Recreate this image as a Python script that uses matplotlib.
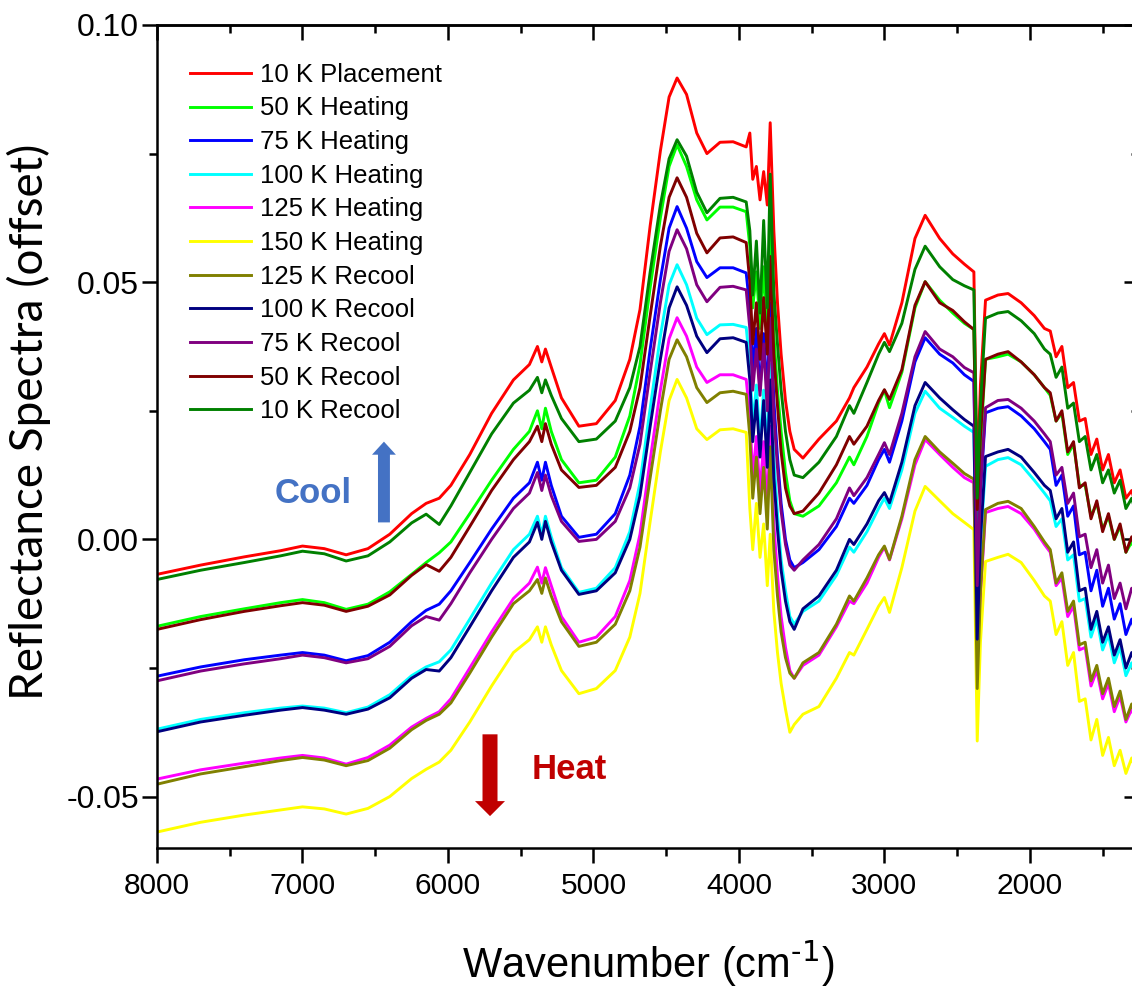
import numpy as np
import matplotlib.pyplot as plt
from matplotlib.ticker import MultipleLocator, FormatStrFormatter

plt.rcParams['font.family'] = ['Liberation Sans', 'DejaVu Sans']
plt.rcParams['axes.unicode_minus'] = False
plt.rcParams['mathtext.default'] = 'regular'

# wavenumber grid (cm-1) shared by all spectra
wavenumber = [
    8000, 7700, 7400, 7150, 7000, 6850, 6700, 6550, 6400, 6250,
    6150, 6060, 5980, 5850, 5700, 5550, 5440, 5385, 5355, 5330,
    5290, 5220, 5100, 4980, 4850, 4750, 4680, 4610, 4540, 4480,
    4425, 4360, 4290, 4220, 4130, 4040, 3950, 3925, 3905, 3880,
    3855, 3830, 3805, 3785, 3760, 3735, 3710, 3680, 3650, 3620,
    3560, 3450, 3330, 3240, 3210, 3120, 3040, 3000, 2965, 2880,
    2790, 2720, 2620, 2530, 2450, 2385, 2362, 2340, 2305, 2220,
    2150, 2060, 1970, 1900, 1860, 1820, 1780, 1740, 1700, 1660,
    1620, 1580, 1540, 1500, 1460, 1420, 1380, 1340, 1300, 1250]

# offset reflectance, in units of 1e-3
placement_10k = [
    -6.8, -5.0, -3.4, -2.2, -1.3, -1.8, -3.0, -1.8, 1.0, 5.0,
    7.0, 8.0, 10.5, 16.5, 24.5, 31.0, 34.0, 37.5, 34.5, 37.0,
    33.5, 27.5, 22.0, 22.5, 27.0, 35.0, 44.7, 61.0, 75.5, 86.0,
    89.7, 86.5, 79.0, 75.0, 77.2, 77.3, 76.3, 79.0, 70.0, 72.5,
    66.0, 71.5, 65.0, 81.0, 60.0, 46.0, 36.0, 27.0, 21.0, 17.5,
    15.8, 19.5, 23.0, 27.5, 29.5, 33.5, 38.0, 40.0, 37.8, 46.0,
    58.5, 63.0, 58.5, 55.5, 53.5, 52.0, 11.0, 30.0, 46.5, 47.5,
    47.8, 46.0, 43.5, 41.0, 40.5, 35.5, 37.5, 29.5, 30.5, 23.0,
    23.5, 16.5, 19.5, 13.5, 16.5, 11.0, 13.5, 8.0, 9.5, 4.5]
heat_50k = [
    -16.9, -15.0, -13.5, -12.3, -11.7, -12.3, -13.6, -12.6, -10.2, -6.8,
    -4.5, -2.6, -0.5, 5.0, 11.5, 17.5, 21.0, 25.0, 21.5, 25.5,
    21.0, 15.5, 11.0, 11.5, 16.0, 24.0, 34.0, 49.0, 62.5, 72.5,
    76.7, 72.5, 66.0, 62.1, 64.6, 64.6, 63.7, 57.0, 45.0, 52.0,
    41.0, 53.0, 40.0, 62.0, 40.0, 29.0, 21.0, 13.0, 7.5, 5.0,
    4.5, 6.5, 11.0, 16.0, 14.5, 20.0, 26.5, 29.0, 25.6, 32.5,
    45.0, 50.1, 46.5, 44.0, 42.0, 40.8, 0.0, 18.0, 35.0, 35.5,
    36.0, 34.5, 32.0, 29.5, 28.0, 23.0, 24.5, 16.5, 18.5, 10.5,
    10.5, 4.5, 7.0, 2.0, 4.5, 0.0, 2.5, -2.5, -0.5, -4.0]
heat_75k = [
    -26.6, -24.8, -23.4, -22.5, -22.0, -22.5, -23.6, -22.6, -20.0, -16.0,
    -13.8, -12.6, -10.0, -4.5, 2.0, 8.0, 11.0, 15.0, 11.5, 15.0,
    10.5, 4.5, 0.4, 1.0, 5.0, 12.5, 22.0, 37.0, 50.5, 60.5,
    64.7, 60.5, 54.0, 50.9, 52.8, 52.8, 51.8, 45.0, 33.0, 41.0,
    29.0, 40.0, 28.0, 46.0, 27.0, 16.0, 7.0, 0.0, -4.0, -5.5,
    -4.5, -2.0, 2.5, 8.0, 7.0, 10.5, 15.5, 17.5, 15.0, 23.0,
    34.5, 39.2, 36.0, 34.3, 32.0, 30.7, -9.5, 9.0, 24.6, 25.5,
    25.8, 24.0, 21.5, 19.0, 17.5, 10.5, 12.5, 4.5, 6.5, -3.0,
    -2.5, -10.0, -6.0, -13.0, -9.5, -15.5, -12.5, -18.5, -15.5, -21.5]
heat_100k = [
    -36.9, -35.0, -33.7, -32.8, -32.4, -32.8, -33.7, -32.6, -30.2, -26.5,
    -24.8, -23.8, -21.5, -15.5, -8.5, -2.0, 1.0, 4.5, 1.0, 4.5,
    0.5, -5.5, -10.3, -9.5, -5.5, 1.5, 11.0, 25.5, 39.5, 49.5,
    53.4, 49.5, 43.0, 39.8, 41.7, 41.8, 41.2, 34.0, 22.0, 30.0,
    19.0, 29.0, 17.0, 34.0, 16.0, 5.0, -4.0, -10.0, -15.0, -16.5,
    -14.0, -12.0, -7.0, -1.5, -2.5, 1.5, 6.0, 8.0, 6.0, 13.5,
    24.5, 28.8, 25.5, 23.7, 22.0, 20.8, -19.5, -1.0, 14.2, 15.5,
    15.9, 14.5, 11.5, 9.0, 7.5, 2.5, 4.0, -4.0, -3.0, -12.0,
    -11.5, -19.0, -15.5, -21.5, -18.5, -24.0, -21.0, -26.5, -24.0, -28.5]
heat_125k = [
    -46.6, -44.8, -43.5, -42.5, -42.0, -42.5, -43.7, -42.4, -40.0, -36.5,
    -34.8, -33.5, -31.0, -25.0, -18.0, -11.5, -8.5, -5.4, -8.5, -5.5,
    -9.0, -15.0, -20.0, -19.0, -15.0, -8.0, 1.0, 15.5, 29.0, 39.0,
    43.1, 39.5, 33.5, 30.5, 32.0, 32.0, 31.1, 24.0, 12.0, 20.0,
    9.0, 19.0, 6.0, 22.0, 3.0, -7.0, -15.0, -21.0, -25.5, -27.0,
    -24.5, -22.5, -17.0, -12.0, -12.5, -8.5, -3.5, -1.5, -4.0, 4.0,
    14.5, 19.4, 16.5, 14.0, 12.0, 11.0, -29.5, -11.0, 5.2, 6.0,
    6.4, 5.0, 2.0, -1.0, -2.5, -9.0, -7.5, -15.0, -13.0, -21.5,
    -21.0, -28.5, -25.5, -31.0, -28.0, -33.5, -30.5, -35.5, -33.0, -37.0]
heat_150k = [
    -56.9, -55.0, -53.6, -52.6, -52.0, -52.4, -53.4, -52.3, -50.0, -46.5,
    -44.7, -43.3, -41.0, -35.5, -28.5, -22.0, -19.5, -17.0, -20.0, -17.0,
    -20.5, -25.5, -30.0, -29.0, -25.5, -19.0, -10.5, 3.5, 17.0, 27.0,
    31.1, 27.5, 21.5, 19.4, 21.3, 21.5, 20.8, 6.0, -2.0, 7.0,
    -3.5, 3.0, -9.0, 1.0, -14.0, -22.0, -28.0, -33.0, -37.5, -36.0,
    -34.0, -32.5, -27.0, -22.0, -22.5, -17.5, -13.0, -11.3, -14.2, -5.5,
    5.5, 10.3, 7.5, 5.0, 3.3, 1.9, -39.2, -20.0, -4.3, -3.5,
    -2.9, -4.5, -8.0, -11.0, -12.0, -18.5, -16.0, -24.5, -22.0, -31.5,
    -31.0, -39.0, -35.0, -42.0, -38.5, -44.0, -41.0, -45.5, -42.5, -47.0]
recool_125k = [
    -47.6, -45.6, -44.2, -43.0, -42.4, -42.9, -44.0, -43.0, -40.6, -37.0,
    -35.2, -34.0, -31.8, -26.0, -19.0, -12.5, -10.0, -7.8, -10.5, -7.5,
    -11.0, -16.0, -20.8, -20.0, -16.5, -10.0, -1.5, 12.0, 25.0, 35.0,
    38.8, 35.5, 29.5, 26.6, 28.5, 28.8, 28.2, 20.0, 8.0, 16.0,
    5.0, 14.0, 2.0, 18.0, -2.0, -11.0, -18.0, -23.0, -26.0, -27.0,
    -24.0, -22.0, -16.5, -11.0, -12.0, -7.5, -3.0, -1.3, -3.9, 4.5,
    15.5, 20.0, 17.0, 14.8, 12.8, 11.7, -29.0, -10.0, 5.8, 7.0,
    7.4, 6.0, 2.5, -0.5, -2.0, -8.5, -6.5, -14.0, -12.0, -20.5,
    -20.0, -27.5, -24.5, -30.0, -27.0, -32.5, -29.5, -35.0, -32.0, -36.5]
recool_100k = [
    -37.4, -35.5, -34.2, -33.2, -32.7, -33.2, -34.0, -33.0, -30.8, -27.0,
    -25.3, -25.6, -23.0, -17.0, -10.0, -3.5, -0.5, 3.3, 0.0, 3.5,
    -0.5, -6.0, -10.7, -10.0, -6.5, 0.0, 8.5, 22.0, 35.0, 45.0,
    49.1, 45.5, 39.5, 36.3, 39.0, 39.2, 38.3, 31.0, 19.0, 27.0,
    16.0, 27.0, 14.0, 31.0, 12.0, 2.0, -6.0, -12.0, -16.0, -17.5,
    -13.5, -11.0, -6.0, 0.0, -1.0, 3.0, 7.5, 9.1, 7.1, 15.0,
    26.0, 30.5, 27.5, 25.2, 23.3, 22.0, -19.4, 0.0, 16.1, 17.0,
    17.5, 16.0, 13.0, 10.5, 9.5, 4.0, 6.0, -2.5, -0.5, -10.0,
    -9.5, -17.5, -14.0, -20.0, -17.0, -22.5, -19.5, -25.0, -22.0, -26.5]
recool_75k = [
    -27.5, -25.6, -24.2, -23.2, -22.5, -23.0, -24.0, -23.2, -20.8, -16.8,
    -15.0, -15.7, -12.5, -6.5, 0.0, 6.0, 9.0, 13.0, 9.5, 12.5,
    8.5, 3.5, -0.4, 0.0, 3.5, 10.0, 18.5, 32.5, 46.0, 56.0,
    60.2, 56.5, 49.5, 46.2, 49.0, 49.2, 48.5, 41.0, 29.0, 37.0,
    28.0, 38.0, 25.0, 43.0, 24.0, 14.0, 5.5, -1.0, -5.0, -6.0,
    -4.0, -1.0, 4.0, 10.0, 8.5, 12.0, 16.5, 18.8, 16.5, 24.5,
    35.5, 40.4, 37.0, 35.5, 33.4, 32.4, -9.0, 10.0, 25.6, 27.0,
    27.2, 25.5, 23.0, 20.5, 19.0, 12.5, 14.0, 7.0, 9.0, 0.5,
    1.0, -5.5, -2.0, -8.5, -5.0, -11.5, -8.5, -13.5, -9.5, -12.5]
recool_50k = [
    -17.5, -15.6, -14.0, -12.9, -12.3, -12.8, -14.0, -13.0, -10.8, -7.0,
    -4.9, -6.2, -3.5, 2.5, 9.5, 15.5, 19.0, 22.0, 19.0, 22.5,
    18.5, 13.5, 10.1, 10.5, 14.0, 21.0, 29.5, 43.5, 57.0, 66.5,
    70.3, 66.5, 59.5, 55.7, 58.6, 58.8, 57.7, 50.0, 38.0, 46.0,
    35.0, 47.0, 36.0, 55.0, 36.0, 26.0, 17.0, 10.0, 6.5, 5.0,
    5.5, 9.0, 14.5, 20.0, 18.5, 22.0, 27.0, 29.1, 27.2, 33.0,
    45.5, 50.1, 46.0, 44.5, 42.3, 40.8, 5.8, 20.0, 35.0, 36.0,
    36.5, 34.5, 32.0, 29.5, 28.5, 23.0, 25.0, 17.0, 19.0, 10.0,
    11.0, 4.0, 7.5, 1.5, 5.0, 0.0, 3.0, -2.5, 0.5, -4.0]
recool_10k = [
    -7.8, -6.0, -4.5, -3.2, -2.3, -2.8, -4.2, -3.2, -0.5, 3.2,
    4.9, 2.9, 6.5, 13.0, 20.5, 26.5, 29.0, 31.5, 28.5, 31.0,
    28.0, 23.5, 19.0, 19.5, 23.0, 29.5, 37.5, 52.0, 65.0, 74.0,
    77.7, 74.5, 67.5, 63.5, 66.3, 66.5, 65.6, 60.0, 47.5, 58.0,
    44.0, 62.0, 45.0, 71.0, 48.0, 38.0, 29.0, 21.0, 15.5, 12.5,
    12.0, 15.0, 20.0, 26.0, 24.5, 30.5, 36.0, 38.3, 36.5, 42.0,
    52.5, 57.0, 53.0, 50.5, 49.3, 48.5, 8.0, 26.0, 43.0, 44.0,
    44.3, 42.5, 40.0, 37.0, 36.0, 31.5, 33.5, 25.5, 26.5, 19.0,
    20.0, 13.5, 16.5, 11.0, 13.5, 9.0, 11.5, 6.0, 8.0, 3.0]

labels = ['10 K Placement', '50 K Heating', '75 K Heating', '100 K Heating',
          '125 K Heating', '150 K Heating', '125 K Recool', '100 K Recool',
          '75 K Recool', '50 K Recool', '10 K Recool']
colors = ['#FF0000', '#00FF00', '#0000FF', '#00FFFF', '#FF00FF', '#FFFF00',
          '#808000', '#000080', '#800080', '#800000', '#008000']
spectra = [placement_10k, heat_50k, heat_75k, heat_100k, heat_125k, heat_150k,
           recool_125k, recool_100k, recool_75k, recool_50k, recool_10k]

fig = plt.figure(figsize=(11.32, 9.88), dpi=100)
ax = fig.add_axes([157 / 1132, 140 / 988, 982 / 1132, 823 / 988])

for vals, lab, col in zip(spectra, labels, colors):
    ax.plot(wavenumber, np.array(vals) / 1000, color=col, lw=2.1, label=lab)

ax.set_xlim(8000, 1250)
ax.set_ylim(-0.06, 0.10)

# ticks: outward on bottom/left, inward on top/right
ax.xaxis.set_major_locator(MultipleLocator(1000))
ax.xaxis.set_minor_locator(MultipleLocator(500))
ax.yaxis.set_major_locator(MultipleLocator(0.05))
ax.yaxis.set_minor_locator(MultipleLocator(0.025))
ax.yaxis.set_major_formatter(FormatStrFormatter('%.2f'))
ax.tick_params(which='major', direction='out', length=11, width=1.8, labelsize=21.5, pad=6)
ax.tick_params(which='minor', direction='out', length=6, width=1.8)
ax.tick_params(axis='y', which='major', pad=2, labelsize=23)

top = ax.secondary_xaxis('top')
top.xaxis.set_major_locator(MultipleLocator(1000))
top.xaxis.set_minor_locator(MultipleLocator(500))
top.tick_params(which='major', direction='in', length=11, width=1.8, labeltop=False)
top.tick_params(which='minor', direction='in', length=6, width=1.8)
right = ax.secondary_yaxis('right')
right.yaxis.set_major_locator(MultipleLocator(0.05))
right.yaxis.set_minor_locator(MultipleLocator(0.025))
right.tick_params(which='major', direction='in', length=11, width=1.8, labelright=False)
right.tick_params(which='minor', direction='in', length=6, width=1.8)
for sp in list(ax.spines.values()) + [top.spines['top'], right.spines['right']]:
    sp.set_linewidth(1.8)

ax.set_xlabel(r'Wavenumber (cm$^{\text{-1}}$)', fontsize=30, labelpad=28)
ax.set_ylabel('Reflectance Spectra (offset)', fontsize=33, family=['Lato', 'DejaVu Sans'])
ax.yaxis.set_label_coords(-0.108, 0.518)

ax.legend(loc='upper left', bbox_to_anchor=(0.034, 0.954), frameon=False, fontsize=18.5,
          handlelength=2.35, handletextpad=0.35, labelspacing=0.375,
          borderaxespad=0, borderpad=0)

# heating / cooling direction markers
ax.annotate('', xy=(6440, 0.019), xytext=(6440, 0.0033),
            arrowprops=dict(arrowstyle='simple,head_length=0.47,head_width=0.86,tail_width=0.43',
                            mutation_scale=20, color='#4472C4', lw=0, shrinkA=0, shrinkB=0))
ax.text(7189, 0.0089, 'Cool', color='#4472C4', fontsize=25, fontweight='bold',
        ha='left', va='center')
ax.annotate('', xy=(5711, -0.0538), xytext=(5711, -0.0379),
            arrowprops=dict(arrowstyle='simple,head_length=0.54,head_width=1.08,tail_width=0.54',
                            mutation_scale=20, color='#C00000', lw=0, shrinkA=0, shrinkB=0))
ax.text(5423, -0.0447, 'Heat', color='#C00000', fontsize=25, fontweight='bold',
        ha='left', va='center')

fig.savefig('out.png', dpi=100)
